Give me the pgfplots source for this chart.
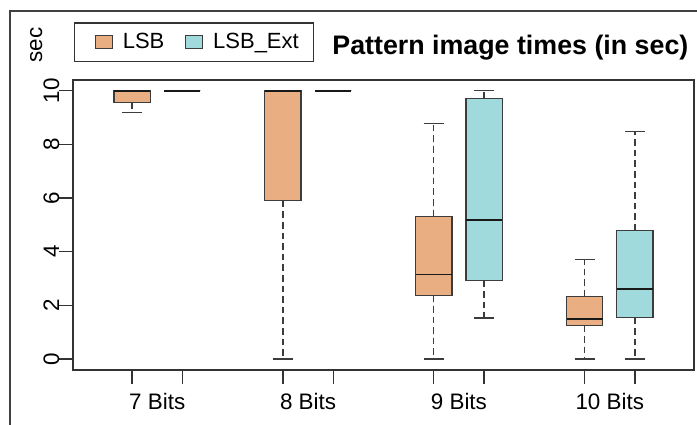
\documentclass[border=0pt]{standalone}
\usepackage{pgfplots}
\pgfplotsset{compat=1.18}
\usepgfplotslibrary{statistics}
\usepackage{fontspec}
\setmainfont{Liberation Sans}

\definecolor{lsb}{RGB}{233,175,131}
\definecolor{ext}{RGB}{160,218,220}
\definecolor{edge}{RGB}{60,60,60}

% R-style whiskers: dashed stem, solid cap
\pgfplotsset{
  boxplot/draw/lower whisker/.code={%
    \draw[/pgfplots/boxplot/every whisker/.try, dash pattern=on 3.3pt off 2pt]
      (boxplot cs:\pgfplotsboxplotvalue{lower quartile}) -- (boxplot cs:\pgfplotsboxplotvalue{lower whisker});
    \draw[/pgfplots/boxplot/every whisker/.try]
      (boxplot whisker cs:\pgfplotsboxplotvalue{lower whisker},0) --
      (boxplot whisker cs:\pgfplotsboxplotvalue{lower whisker},1);
  },
  boxplot/draw/upper whisker/.code={%
    \draw[/pgfplots/boxplot/every whisker/.try, dash pattern=on 3.3pt off 2pt]
      (boxplot cs:\pgfplotsboxplotvalue{upper quartile}) -- (boxplot cs:\pgfplotsboxplotvalue{upper whisker});
    \draw[/pgfplots/boxplot/every whisker/.try]
      (boxplot whisker cs:\pgfplotsboxplotvalue{upper whisker},0) --
      (boxplot whisker cs:\pgfplotsboxplotvalue{upper whisker},1);
  },
}

\begin{document}
\begin{tikzpicture}
% page: 697x424 px at 0.5pt per px
\path[use as bounding box] (0,0) rectangle (348.5pt,212pt);
\draw[black!75, line width=0.6pt] (5pt,-2pt) -- (5pt,206.5pt) -- (352pt,206.5pt);

\begin{axis}[
    at={(36.5pt,27pt)}, anchor=south west,
    width=310.5pt, height=145pt, scale only axis,
    xmin=-0.175, xmax=12.175,
    ymin=-0.41, ymax=10.4,
    axis line style={black!80, line width=0.7pt},
    tick pos=left, tick align=outside,
    major tick length=7pt,
    tick style={black!80, line width=0.6pt},
    ytick={0,2,4,6,8,10},
    yticklabel style={rotate=90, anchor=base, font=\fontsize{11.2}{13}\selectfont},
    xtick={1,2,4,5,7,8,10,11},
    xticklabels={,,,,,,,},
    extra x ticks={1.5,4.5,7.5,10.5},
    extra x tick labels={7 Bits,8 Bits,9 Bits,10 Bits},
    extra x tick style={tick style={draw=none}, xticklabel style={yshift=-1pt}},
    xticklabel style={font=\fontsize{11.2}{13}\selectfont},
    /pgf/number format/assume math mode=true,
    boxplot/draw direction=y,
    boxplot/box extend=0.72,
    boxplot/whisker extend=0.4,
    boxplot/every box/.style={draw=edge, line width=0.65pt},
    boxplot/every whisker/.style={draw=edge, line width=0.65pt},
    boxplot/every median/.style={draw=black!90, line width=0.85pt},
    legend columns=2,
    legend style={at={(0,1)}, anchor=south west, xshift=0.5pt, yshift=9pt,
      draw=black!80, line width=0.6pt,
      font=\fontsize{11}{13}\selectfont,
      inner xsep=5.3pt, inner ysep=3pt,
      /tikz/every odd column/.append style={column sep=3pt},
      /tikz/every even column/.append style={column sep=3.6pt}},
    legend image code/.code={\path (-4.7pt,0pt);
      \draw[#1, draw=edge, line width=0.6pt] (0pt,-3.3pt) rectangle (8.5pt,3.3pt);},
]
\addlegendimage{fill=lsb}
\addlegendentry{LSB}
\addlegendimage{fill=ext}
\addlegendentry{LSB\_Ext}

% 7 Bits
\addplot[fill=lsb, boxplot prepared={draw position=1,
  lower whisker=9.19, lower quartile=9.57, median=10, upper quartile=10, upper whisker=10}]
  coordinates {};
\addplot[fill=ext, boxplot prepared={draw position=2,
  lower whisker=10, lower quartile=10, median=10, upper quartile=10, upper whisker=10}]
  coordinates {};
% 8 Bits
\addplot[fill=lsb, boxplot prepared={draw position=4,
  lower whisker=0, lower quartile=5.9, median=10, upper quartile=10, upper whisker=10}]
  coordinates {};
\addplot[fill=ext, boxplot prepared={draw position=5,
  lower whisker=10, lower quartile=10, median=10, upper quartile=10, upper whisker=10}]
  coordinates {};
% 9 Bits
\addplot[fill=lsb, boxplot prepared={draw position=7,
  lower whisker=0, lower quartile=2.37, median=3.15, upper quartile=5.32, upper whisker=8.78}]
  coordinates {};
\addplot[fill=ext, boxplot prepared={draw position=8,
  lower whisker=1.53, lower quartile=2.93, median=5.18, upper quartile=9.70, upper whisker=10}]
  coordinates {};
% 10 Bits
\addplot[fill=lsb, boxplot prepared={draw position=10,
  lower whisker=0, lower quartile=1.25, median=1.49, upper quartile=2.33, upper whisker=3.72}]
  coordinates {};
\addplot[fill=ext, boxplot prepared={draw position=11,
  lower whisker=0, lower quartile=1.54, median=2.60, upper quartile=4.79, upper whisker=8.49}]
  coordinates {};
\end{axis}

\node[rotate=90, anchor=base, font=\fontsize{11.2}{13}\selectfont] at (21pt,189.5pt) {sec};
\node[anchor=base west, font=\fontsize{13.4}{16}\selectfont\bfseries, inner sep=0pt] at (166pt,184.5pt) {Pattern image times (in sec)};
\end{tikzpicture}
\end{document}
